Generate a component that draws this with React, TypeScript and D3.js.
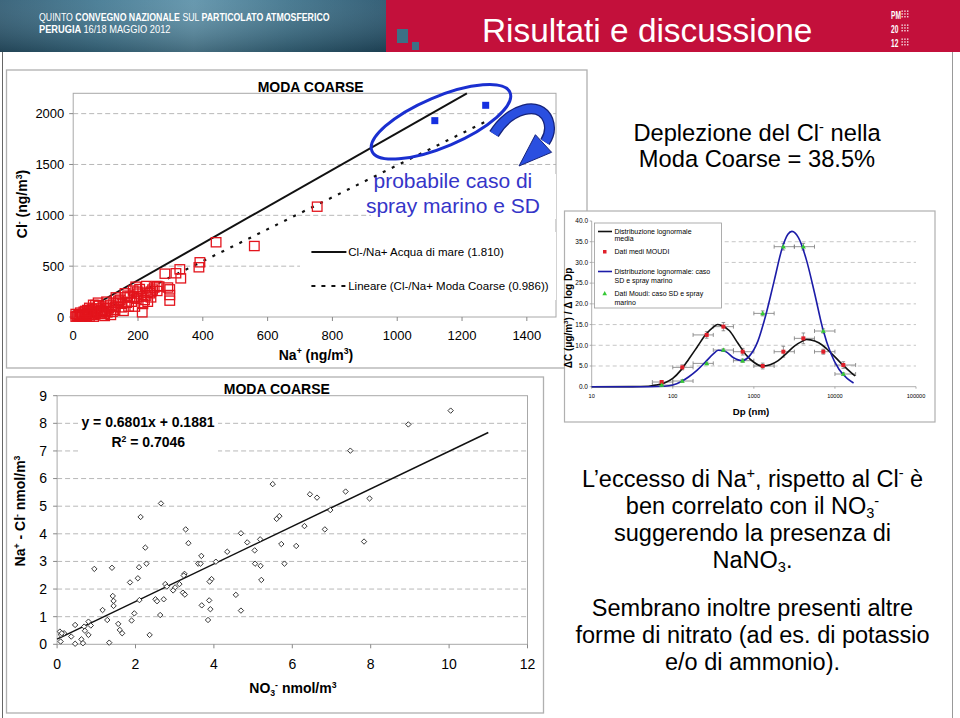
import React from "react";
import * as d3 from "d3";

const FONT = "'Liberation Sans', Arial, Helvetica, sans-serif";

// ---------------- Chart 1: Cl- vs Na+ (MODA COARSE) ----------------
const c1XTicks = [0, 200, 400, 600, 800, 1000, 1200, 1400];
const c1YTicks = [0, 500, 1000, 1500, 2000];
const c1GridY = [500, 1000, 1500, 2000];
const naCoarse = [753, 441, 559, 388, 391, 329, 332, 317, 283, 298, 298, 298, 292, 259, 226, 237, 240, 220, 215, 213, 259, 250, 193, 198, 205, 187, 190, 171, 160, 160, 168, 138, 132, 149, 129, 140, 105, 103, 115, 97, 94, 100, 77, 80, 72, 66, 62, 55, 58, 69, 44, 50, 39, 28, 17, 8, 22, 50, 63, 83, 33, 42, 8, 88, 116, 110, 121, 125, 145, 180, 175, 185, 200, 230, 245, 265, 210, 225, 30, 35, 45, 55, 60, 70, 75, 85, 90, 12, 18, 25, 38, 48, 95, 105, 130, 150, 165, 195, 155, 230, 240];
const clCoarse = [1085, 735, 698, 489, 538, 469, 380, 430, 426, 272, 216, 161, 290, 305, 305, 233, 193, 167, 128, 46, 256, 290, 298, 249, 275, 193, 102, 102, 193, 233, 210, 141, 193, 95, 69, 160, 85, 151, 120, 10, 102, 60, 141, 110, 85, 46, 120, 36, 75, 118, 69, 90, 20, 3, 20, 30, 43, 3, 3, 30, 52, 10, 3, 36, 20, 85, 52, 140, 170, 150, 200, 260, 230, 240, 270, 300, 200, 210, 15, 30, 40, 55, 20, 40, 60, 70, 50, 10, 5, 25, 60, 25, 30, 45, 100, 130, 140, 180, 60, 150, 250];
const naSpray = [1116, 1273];
const clSpray = [1931, 2082];
const seaLineNa = [83, 1215];
const seaLineCl = [150, 2199];
const fitLineNa = [70, 1275];
const fitLineCl = [30, 1925];

// ---------------- Chart 2: Na+ - Cl- vs NO3- ----------------
const c2XTicks = [0, 2, 4, 6, 8, 10, 12];
const c2YTicks = [0, 1, 2, 3, 4, 5, 6, 7, 8, 9];
const c2GridY = [1, 2, 3, 4, 5, 6, 7, 8];
const no3 = [10.04, 8.96, 7.48, 5.5, 6.45, 6.63, 7.36, 7.97, 6.97, 5.67, 5.6, 6.31, 6.83, 7.83, 4.69, 4.85, 5.18, 5.72, 6.1, 5.04, 4.34, 5.8, 5.05, 5.19, 5.21, 4.56, 4.69, 2.13, 2.65, 3.28, 3.35, 2.25, 2.28, 2.09, 2.06, 1.86, 0.95, 1.4, 3.68, 3.6, 3.66, 4.05, 3.94, 3.89, 3.25, 3.23, 3.12, 2.76, 2.8, 3.01, 2.96, 3.21, 3.26, 3.88, 3.69, 3.91, 3.85, 2.51, 2.55, 2.72, 2.63, 2.36, 2.1, 1.97, 1.9, 1.42, 1.44, 1.44, 1.16, 1.28, 1.56, 1.6, 1.66, 1.33, 0.8, 0.86, 0.69, 0.71, 0.8, 0.62, 0.66, 0.46, 0.46, 0.36, 0.18, 0.07, 0.1, 0.09, 0.12];
const excessNa = [8.46, 7.96, 7.01, 5.8, 5.43, 5.31, 5.53, 5.28, 4.86, 4.64, 4.54, 4.28, 4.16, 3.72, 4.02, 3.69, 3.8, 3.63, 3.56, 3.4, 3.35, 2.92, 2.92, 2.84, 2.33, 1.79, 1.22, 4.61, 5.1, 4.16, 3.66, 3.5, 2.92, 2.79, 2.39, 2.24, 2.73, 2.77, 3.2, 2.92, 2.92, 2.99, 2.36, 2.27, 2.55, 2.49, 2.18, 2.18, 2.09, 2.06, 1.95, 1.87, 1.8, 1.59, 1.41, 1.27, 0.88, 1.63, 1.56, 1.63, 1.06, 0.34, 1.6, 1.12, 0.86, 1.75, 1.57, 1.39, 1.24, 0.88, 0.74, 0.52, 0.4, 0.06, 0.82, 0.68, 0.64, 0.49, 0.34, 0.18, 0.04, 0.02, 0.7, 0.28, 0.4, 0.46, 0.34, 0.1, 0.4];
const trendX = [0, 11];
const trendY = [0.188, 7.669];

// ---------------- Chart 3: size distribution ----------------
const dpTicks = [10, 100, 1000, 10000, 100000];
const dcTicks = [0, 5, 10, 15, 20, 25, 30, 35, 40];
const dcGrid = [5, 10, 15, 20, 25, 30, 35];
const stageDp = [72.9, 131, 262, 421, 728, 1285, 2312, 4078, 7196, 12700];
const stageLo = [56, 100, 178, 316, 560, 1000, 1780, 3160, 5600, 10000];
const stageHi = [100, 178, 316, 560, 1000, 1780, 3160, 5600, 10000, 18000];
const meanVals = [1.13, 4.67, 12.5, 14.5, 8.45, 4.99, 8.45, 11.67, 8.45, 5.23];
const meanErr = [0.3, 0.6, 0.8, 1.0, 0.8, 0.7, 1.3, 1.3, 0.6, 0.8];
const sdVals = [0.4, 1.37, 5.63, 8.85, 6.28, 17.7, 33.8, 33.8, 13.44, 3.06];
const sdErr = [0.2, 0.3, 0.3, 0.3, 0.4, 0.6, 0.8, 0.8, 0.5, 0.3];
const meanCurveDp = [10, 31.6, 50, 63, 79, 100, 126, 158, 200, 251, 316, 355, 398, 501, 631, 794, 1000, 1259, 1585, 1995, 2512, 3162, 3981, 4467, 5012, 6310, 7943, 10000, 12589, 15849, 17783];
const meanCurveVal = [0, 0.02, 0.1, 0.4, 0.9, 2.0, 4.0, 6.7, 9.6, 12.4, 14.4, 15.0, 14.8, 13.5, 10.6, 7.8, 5.9, 5.0, 5.3, 6.3, 8.0, 9.8, 11.0, 11.4, 11.3, 10.6, 9.1, 7.2, 5.2, 3.4, 2.6];
const sdCurveDp = [10, 50, 79, 100, 126, 158, 200, 251, 316, 363, 447, 562, 708, 891, 1122, 1413, 1778, 2239, 2630, 2951, 3548, 4467, 5623, 7079, 8913, 11220, 14125, 16982];
const sdCurveVal = [0, 0, 0.1, 0.4, 1.2, 2.4, 4.0, 5.9, 7.9, 8.8, 8.5, 7.0, 6.3, 7.5, 11.0, 17.5, 25.5, 33.5, 36.8, 37.5, 36.0, 30.5, 22.5, 14.0, 8.0, 4.2, 2.0, 0.9];

type Seg = { t: string; s?: "sup" | "sub" };
function rich(segs: Seg[], fs: number) {
  let cur = 0;
  return segs.map((sg, i) => {
    const target = sg.s === "sup" ? -fs * 0.36 : sg.s === "sub" ? fs * 0.18 : 0;
    const dy = target - cur;
    cur = target;
    return (
      <tspan key={i} dy={dy} fontSize={sg.s ? fs * 0.62 : fs}>
        {sg.t}
      </tspan>
    );
  });
}

export default function App() {
  // Chart 1 scales
  const x1 = d3.scaleLinear().domain([0, 1490]).range([73.2, 556]);
  const y1 = d3.scaleLinear().domain([0, 2200]).range([317, 93.3]);
  const line1 = d3.line<[number, number]>().x((d) => x1(d[0])).y((d) => y1(d[1]));
  const seaPts: [number, number][] = seaLineNa.map((v, i) => [v, seaLineCl[i]]);
  const fitPts: [number, number][] = fitLineNa.map((v, i) => [v, fitLineCl[i]]);

  // Chart 2 scales
  const x2 = d3.scaleLinear().domain([0, 12]).range([57.1, 527.5]);
  const y2 = d3.scaleLinear().domain([0, 9]).range([644.3, 395.7]);
  const trendPts: [number, number][] = trendX.map((v, i) => [v, trendY[i]]);
  const line2 = d3.line<[number, number]>().x((d) => x2(d[0])).y((d) => y2(d[1]));

  // Chart 3 scales
  const x3 = d3.scaleLog().domain([10, 100000]).range([591.7, 916]);
  const y3 = d3.scaleLinear().domain([0, 40]).range([386.7, 221]);
  const line3 = d3
    .line<[number, number]>()
    .x((d) => x3(d[0]))
    .y((d) => y3(d[1]))
    .curve(d3.curveMonotoneX);
  const meanCurve: [number, number][] = meanCurveDp.map((v, i) => [v, meanCurveVal[i]]);
  const sdCurve: [number, number][] = sdCurveDp.map((v, i) => [v, sdCurveVal[i]]);

  const grid = "#b8b8b8";
  const panel = "#b0b0b0";

  const ecx = x1(1135);
  const ecy = y1(1920);

  const errBars = (vals: number[], errs: number[], key: string) =>
    stageDp.map((dp, i) => {
      const cx = x3(dp);
      const cy = y3(vals[i]);
      const xl = x3(stageLo[i]);
      const xh = x3(stageHi[i]);
      const yt = y3(vals[i] + errs[i]);
      const yb = y3(Math.max(0, vals[i] - errs[i]));
      return (
        <g key={key + i} stroke="#7a7a7a" strokeWidth={0.8}>
          <line x1={xl} x2={xh} y1={cy} y2={cy} />
          <line x1={xl} x2={xl} y1={cy - 2} y2={cy + 2} />
          <line x1={xh} x2={xh} y1={cy - 2} y2={cy + 2} />
          <line x1={cx} x2={cx} y1={yt} y2={yb} />
          <line x1={cx - 1.8} x2={cx + 1.8} y1={yt} y2={yt} />
          <line x1={cx - 1.8} x2={cx + 1.8} y1={yb} y2={yb} />
        </g>
      );
    });

  return (
    <svg
      width={960}
      height={718}
      style={{ position: "absolute", left: 0, top: 0, background: "#fff" }}
      fontFamily={FONT}
    >
      <defs>
        <linearGradient id="hdr" x1="0" x2="1" y1="0" y2="0">
          <stop offset="0" stopColor="#2d5a72" />
          <stop offset="0.25" stopColor="#3f7690" />
          <stop offset="0.5" stopColor="#5b90a8" />
          <stop offset="0.75" stopColor="#3b7089" />
          <stop offset="1" stopColor="#25536c" />
        </linearGradient>
        <linearGradient id="hdrv" x1="0" x2="0" y1="0" y2="1">
          <stop offset="0" stopColor="#ffffff" stopOpacity="0.08" />
          <stop offset="1" stopColor="#000000" stopOpacity="0.25" />
        </linearGradient>
      </defs>

      {/* ---------- Header ---------- */}
      <rect x={0} y={0} width={387} height={52} fill="url(#hdr)" />
      <rect x={0} y={0} width={387} height={52} fill="url(#hdrv)" />
      <rect x={386} y={0} width={574} height={52} fill="#c3103b" />
      <rect x={397} y={29} width={11} height={14} fill="#3c7185" />
      <rect x={412} y={42} width={7} height={8} fill="#3c7185" />
      <g transform="translate(39,21) scale(0.836,1)">
        <text x={0} y={0} fill="#fff" fontSize={10.5}>
          <tspan>QUINTO </tspan>
          <tspan fontWeight="bold">CONVEGNO NAZIONALE </tspan>
          <tspan>SUL </tspan>
          <tspan fontWeight="bold">PARTICOLATO ATMOSFERICO</tspan>
        </text>
      </g>
      <g transform="translate(39,33) scale(0.884,1)">
        <text x={0} y={0} fill="#fff" fontSize={10.5}>
          <tspan fontWeight="bold">PERUGIA </tspan>
          <tspan>16/18 MAGGIO 2012</tspan>
        </text>
      </g>
      <text x={482} y={41.7} fill="#fff" fontSize={33.4}>
        Risultati e discussione
      </text>
      {["PM", "20", "12"].map((t, r) => (
        <g key={t + r}>
          <g transform={`translate(891,${18.5 + r * 14}) scale(0.6,1)`}>
            <text x={0} y={0} fill="#fff" fontSize={11} fontWeight="bold">
              {t}
            </text>
          </g>
          {[0, 1, 2].map((c) =>
            [0, 1, 2].map((rr) => (
              <rect key={`${c}-${rr}`} x={901.5 + c * 2.8} y={10.5 + r * 14 + rr * 2.8} width={1.3} height={1.3} fill="#fff" />
            ))
          )}
        </g>
      ))}

      {/* slide frame */}
      <line x1={2.5} x2={2.5} y1={52} y2={718} stroke="#666" strokeWidth={1} />
      <line x1={952.5} x2={952.5} y1={52} y2={718} stroke="#999" strokeWidth={1} />

      {/* ---------- Chart 1 panel ---------- */}
      <rect x={6.5} y={70} width={580.5} height={298} fill="#fff" stroke={panel} strokeWidth={1.3} />
      {c1GridY.map((v) => (
        <line key={v} x1={x1.range()[0]} x2={x1.range()[1]} y1={y1(v)} y2={y1(v)} stroke={grid} strokeDasharray="5,3" />
      ))}
      <rect x={73.2} y={93.3} width={556 - 73.2} height={317 - 93.3} fill="none" stroke="#a8a8a8" />
      {c1YTicks.map((v) => (
        <g key={v}>
          <line x1={69.2} x2={73.2} y1={y1(v)} y2={y1(v)} stroke="#888" />
          <text x={64.3} y={y1(v)} dy="0.35em" textAnchor="end" fontSize={13}>
            {v}
          </text>
        </g>
      ))}
      {c1XTicks.map((v) => (
        <g key={v}>
          <line x1={x1(v)} x2={x1(v)} y1={317} y2={321} stroke="#888" />
          <text x={x1(v)} y={339.5} textAnchor="middle" fontSize={13}>
            {v}
          </text>
        </g>
      ))}
      <text x={310.7} y={91.5} textAnchor="middle" fontSize={14} fontWeight="bold">
        MODA COARSE
      </text>
      <text x={316} y={359.5} textAnchor="middle" fontSize={14} fontWeight="bold">
        {rich([{ t: "Na" }, { t: "+", s: "sup" }, { t: " (ng/m" }, { t: "3", s: "sup" }, { t: ")" }], 14)}
      </text>
      <text transform="translate(27,204) rotate(-90)" textAnchor="middle" fontSize={14} fontWeight="bold">
        {rich([{ t: "Cl" }, { t: "-", s: "sup" }, { t: "  (ng/m" }, { t: "3", s: "sup" }, { t: ")" }], 14)}
      </text>
      {/* white boxes for legend and annotation */}
      <rect x={300} y={232} width={256} height={68} fill="#fff" />
      <rect x={371} y={174} width={185} height={45} fill="#fff" />
      {/* lines */}
      <path d={line1(fitPts) || ""} fill="none" stroke="#111" strokeWidth={2.2} strokeDasharray="3,7" />
      <path d={line1(seaPts) || ""} fill="none" stroke="#111" strokeWidth={2} />
      {/* points */}
      {naCoarse.map((v, i) => (
        <rect key={i} x={x1(v) - 4.8} y={y1(clCoarse[i]) - 4.6} width={9.6} height={9.2} fill="none" stroke="#e3141c" strokeWidth={1.3} />
      ))}
      {naSpray.map((v, i) => (
        <rect key={i} x={x1(v) - 3.5} y={y1(clSpray[i]) - 3.5} width={7} height={7} fill="#1530e0" />
      ))}
      {/* legend */}
      <line x1={311.4} x2={346.4} y1={252} y2={252} stroke="#111" strokeWidth={2} />
      <text x={348.2} y={252} dy="0.35em" fontSize={11.5}>
        Cl-/Na+ Acqua di mare (1.810)
      </text>
      <line x1={311.4} x2={346.4} y1={286} y2={286} stroke="#111" strokeWidth={2} strokeDasharray="4,6" />
      <text x={348.2} y={286} dy="0.35em" fontSize={11.5}>
        Lineare (Cl-/Na+ Moda Coarse (0.986))
      </text>
      {/* annotation */}
      <text x={452.9} y={188.3} textAnchor="middle" fontSize={21} fill="#3535c8">
        probabile caso di
      </text>
      <text x={452.9} y={213.3} textAnchor="middle" fontSize={21} fill="#3535c8">
        spray marino e SD
      </text>
      <ellipse cx={ecx} cy={ecy} rx={75} ry={25} transform={`rotate(-23 ${ecx} ${ecy})`} fill="none" stroke="#1a2fd0" strokeWidth={3} />
      <path d="M 494,134 C 510,108 540,100 548,120 C 551,128 549,136 545,142" fill="none" stroke="#16237a" strokeWidth={11} />
      <path d="M 494,134 C 510,108 540,100 548,120 C 551,128 549,136 545,142" fill="none" stroke="#2a4fe0" strokeWidth={8.5} />
      <polygon points="519,166 535.4,134.7 551.6,152.3" fill="#2a4fe0" stroke="#16237a" strokeWidth={1} />

      {/* ---------- Chart 2 panel ---------- */}
      <rect x={6.5} y={377} width={537} height={336} fill="#fff" stroke={panel} strokeWidth={1.3} />
      {c2GridY.map((v) => (
        <line key={v} x1={x2.range()[0]} x2={x2.range()[1]} y1={y2(v)} y2={y2(v)} stroke={grid} strokeDasharray="5,3" />
      ))}
      <rect x={57.1} y={395.7} width={527.5 - 57.1} height={644.3 - 395.7} fill="none" stroke="#a8a8a8" />
      {c2YTicks.map((v) => (
        <g key={v}>
          <line x1={53.1} x2={57.1} y1={y2(v)} y2={y2(v)} stroke="#888" />
          <text x={47} y={y2(v)} dy="0.35em" textAnchor="end" fontSize={14}>
            {v}
          </text>
        </g>
      ))}
      {c2XTicks.map((v) => (
        <g key={v}>
          <line x1={x2(v)} x2={x2(v)} y1={644.3} y2={648.3} stroke="#888" />
          <text x={x2(v)} y={669} textAnchor="middle" fontSize={14}>
            {v}
          </text>
        </g>
      ))}
      <text x={276.8} y={394} textAnchor="middle" fontSize={14} fontWeight="bold">
        MODA COARSE
      </text>
      <text x={292.9} y={693} textAnchor="middle" fontSize={14} fontWeight="bold">
        {rich([{ t: "NO" }, { t: "3", s: "sub" }, { t: "-", s: "sup" }, { t: " nmol/m" }, { t: "3", s: "sup" }], 14)}
      </text>
      <text transform="translate(25,511) rotate(-90)" textAnchor="middle" fontSize={14} fontWeight="bold">
        {rich([{ t: "Na" }, { t: "+", s: "sup" }, { t: " - Cl" }, { t: "-", s: "sup" }, { t: " nmol/m" }, { t: "3", s: "sup" }], 14)}
      </text>
      <rect x={78} y={408} width={140} height={44} fill="#fff" />
      <text x={81.4} y={427.3} fontSize={14} fontWeight="bold">
        y = 0.6801x + 0.1881
      </text>
      <text x={111.4} y={446.7} fontSize={14} fontWeight="bold">
        {rich([{ t: "R" }, { t: "2", s: "sup" }, { t: " = 0.7046" }], 14)}
      </text>
      <path d={line2(trendPts) || ""} fill="none" stroke="#111" strokeWidth={1.5} />
      {no3.map((v, i) => {
        const cx = x2(v);
        const cy = y2(excessNa[i]);
        const r = 2.7;
        return (
          <path
            key={i}
            d={`M${cx},${cy - r}L${cx + r},${cy}L${cx},${cy + r}L${cx - r},${cy}Z`}
            fill="#fff"
            stroke="#222"
            strokeWidth={0.9}
          />
        );
      })}

      {/* ---------- Right side text ---------- */}
      <text x={757} y={140.7} textAnchor="middle" fontSize={23.7}>
        {rich([{ t: "Deplezione del Cl" }, { t: "-", s: "sup" }, { t: " nella" }], 23.7)}
      </text>
      <text x={757} y={166.7} textAnchor="middle" fontSize={23.7}>
        Moda Coarse = 38.5%
      </text>

      {/* ---------- Chart 3 panel ---------- */}
      <rect x={564.5} y={211} width={370.5} height={211} fill="#fff" stroke={panel} strokeWidth={1.2} />
      {dcGrid.map((v) => (
        <line key={v} x1={x3.range()[0]} x2={x3.range()[1]} y1={y3(v)} y2={y3(v)} stroke={grid} strokeDasharray="4,3" strokeWidth={0.8} />
      ))}
      <line x1={591.7} x2={591.7} y1={221} y2={386.7} stroke="#999" strokeWidth={0.8} />
      <line x1={591.7} x2={916} y1={386.7} y2={386.7} stroke="#999" strokeWidth={0.8} />
      {dcTicks.map((v) => (
        <g key={v}>
          <line x1={589.7} x2={591.7} y1={y3(v)} y2={y3(v)} stroke="#999" strokeWidth={0.8} />
          <text x={588} y={y3(v)} dy="0.35em" textAnchor="end" fontSize={6.5}>
            {v.toFixed(1)}
          </text>
        </g>
      ))}
      {dpTicks.map((v) => (
        <g key={v}>
          <line x1={x3(v)} x2={x3(v)} y1={386.7} y2={388.7} stroke="#999" strokeWidth={0.8} />
          <text x={x3(v)} y={397.5} textAnchor="middle" fontSize={5.6}>
            {v}
          </text>
        </g>
      ))}
      <text x={751} y={414.5} textAnchor="middle" fontSize={9.7} fontWeight="bold">
        Dp (nm)
      </text>
      <text transform="translate(572,318) rotate(-90)" textAnchor="middle" fontSize={10} fontWeight="bold">
        {rich([{ t: "ΔC (μg/m" }, { t: "3", s: "sup" }, { t: ") / Δ log Dp" }], 10)}
      </text>
      {errBars(meanVals, meanErr, "m")}
      {errBars(sdVals, sdErr, "s")}
      <path d={line3(meanCurve) || ""} fill="none" stroke="#111" strokeWidth={1.6} />
      <path d={line3(sdCurve) || ""} fill="none" stroke="#1c1ca8" strokeWidth={1.6} />
      {stageDp.map((dp, i) => (
        <rect key={"mr" + i} x={x3(dp) - 2} y={y3(meanVals[i]) - 2} width={4} height={4} fill="#e0202a" />
      ))}
      {stageDp.map((dp, i) => {
        const cx = x3(dp);
        const cy = y3(sdVals[i]);
        return <path key={"gt" + i} d={`M${cx},${cy - 2.6}L${cx + 2.5},${cy + 1.8}L${cx - 2.5},${cy + 1.8}Z`} fill="#35c935" />;
      })}
      {/* legend */}
      <rect x={594.5} y={223} width={127} height={85} fill="#fff" stroke="#9a9a9a" strokeWidth={0.8} />
      <line x1={598} x2={612} y1={231.5} y2={231.5} stroke="#111" strokeWidth={1.6} />
      <text x={614.5} y={233.8} fontSize={7}>Distribuzione lognormale</text>
      <text x={614.5} y={241.3} fontSize={7}>media</text>
      <rect x={603} y={250} width={3.5} height={3.5} fill="#e0202a" />
      <text x={614.5} y={254.2} fontSize={7}>Dati medi MOUDI</text>
      <line x1={598} x2={612} y1={271.5} y2={271.5} stroke="#1c1ca8" strokeWidth={1.6} />
      <text x={614.5} y={274} fontSize={7}>Distribuzione lognormale: caso</text>
      <text x={614.5} y={283.3} fontSize={7}>SD e spray marino</text>
      <path d="M604.7,291 L607,295.2 L602.4,295.2 Z" fill="#35c935" />
      <text x={614.5} y={296} fontSize={7}>Dati Moudi: caso SD e spray</text>
      <text x={614.5} y={305} fontSize={7}>marino</text>

      {/* ---------- Bottom right text ---------- */}
      <g fontSize={23.5} textAnchor="middle">
        <text x={752.5} y={486.7}>
          {rich([{ t: "L’eccesso di Na" }, { t: "+", s: "sup" }, { t: ", rispetto al Cl" }, { t: "-", s: "sup" }, { t: " è" }], 23.5)}
        </text>
        <text x={752.5} y={514}>
          {rich([{ t: "ben correlato con il NO" }, { t: "3", s: "sub" }, { t: "-", s: "sup" }], 23.5)}
        </text>
        <text x={752.5} y={540.5}>suggerendo la presenza di</text>
        <text x={752.5} y={568}>
          {rich([{ t: "NaNO" }, { t: "3", s: "sub" }, { t: "." }], 23.5)}
        </text>
        <text x={752.5} y={616}>Sembrano inoltre presenti altre</text>
        <text x={752.5} y={643}>forme di nitrato (ad es. di potassio</text>
        <text x={752.5} y={670}>e/o di ammonio).</text>
      </g>
    </svg>
  );
}
